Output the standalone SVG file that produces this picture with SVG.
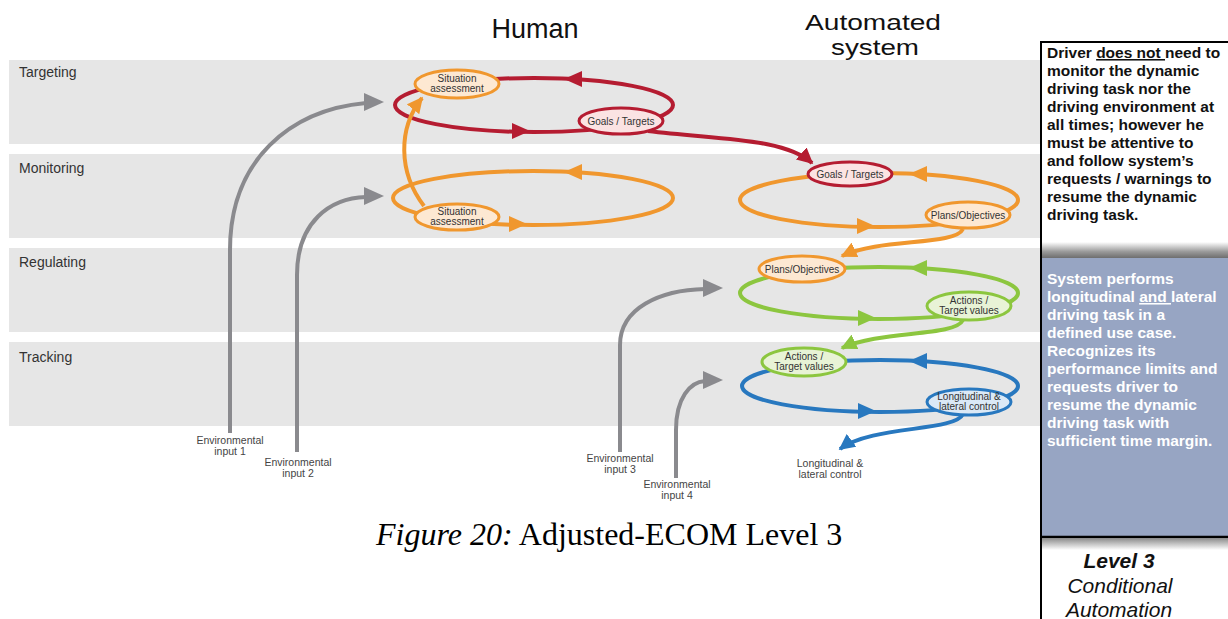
<svg xmlns="http://www.w3.org/2000/svg" width="1228" height="619" viewBox="0 0 1228 619">
  <style>
    .band { fill: #e6e6e6; }
    .bandlabel { font-family: "Liberation Sans", Arial, sans-serif; font-size: 14px; fill: #333; }
    .title { font-family: "Liberation Sans", Arial, sans-serif; fill: #111; text-anchor: middle; }
    .small { font-family: "Liberation Sans", Arial, sans-serif; font-size: 10.5px; fill: #444; text-anchor: middle; }
    .nodetext { font-family: "Liberation Sans", Arial, sans-serif; font-size: 10px; fill: #333; text-anchor: middle; }
    .loop { fill: none; stroke-width: 4; }
    .red { stroke: #b51c31; }
    .orange { stroke: #f0972e; }
    .green { stroke: #8cc63f; }
    .blue { stroke: #2878bf; }
    .gray { stroke: #8a8a8e; fill: none; stroke-width: 4; }
    .conn { fill: none; stroke-width: 4; }
    .n-red { fill: #fbe3e3; stroke: #b51c31; stroke-width: 3; }
    .n-orange { fill: #fde8d2; stroke: #f0972e; stroke-width: 3; }
    .n-green { fill: #e8f3d6; stroke: #8cc63f; stroke-width: 3; }
    .n-blue { fill: #dbe9f6; stroke: #2878bf; stroke-width: 3; }
    .ptext { font-family: "Liberation Sans", Arial, sans-serif; font-size: 15.5px; font-weight: bold; }
    .caption { font-family: "Liberation Serif", "Times New Roman", serif; font-size: 32px; fill: #000; }
    .lvl { font-family: "Liberation Sans", Arial, sans-serif; font-size: 21px; font-style: italic; fill: #111; text-anchor: middle; }
  </style>
  <defs>
    <!-- arrowhead pointing along +x, tip at origin -->
    <path id="head" d="M0 0 L-18 -8 L-18 8 Z"/>
    <path id="bighead" d="M0 0 L-20 -9 L-20 9 Z"/>
    <marker id="m-red" viewBox="0 0 10 10" refX="9" refY="5" markerWidth="4" markerHeight="4" orient="auto">
      <path d="M0 0 L10 5 L0 10 Z" fill="#b51c31"/>
    </marker>
    <marker id="m-orange" viewBox="0 0 10 10" refX="9" refY="5" markerWidth="4" markerHeight="4" orient="auto">
      <path d="M0 0 L10 5 L0 10 Z" fill="#f0972e"/>
    </marker>
    <marker id="m-green" viewBox="0 0 10 10" refX="9" refY="5" markerWidth="4" markerHeight="4" orient="auto">
      <path d="M0 0 L10 5 L0 10 Z" fill="#8cc63f"/>
    </marker>
    <marker id="m-blue" viewBox="0 0 10 10" refX="9" refY="5" markerWidth="4" markerHeight="4" orient="auto">
      <path d="M0 0 L10 5 L0 10 Z" fill="#2878bf"/>
    </marker>
    <linearGradient id="shadow" x1="0" y1="0" x2="0" y2="1">
      <stop offset="0" stop-color="#ffffff"/>
      <stop offset="0.6" stop-color="#9a9a9a"/>
      <stop offset="1" stop-color="#6e6e6e"/>
    </linearGradient>
    <linearGradient id="shadow2" x1="0" y1="0" x2="0" y2="1">
      <stop offset="0" stop-color="#8a8a8a"/>
      <stop offset="1" stop-color="#ffffff"/>
    </linearGradient>
  </defs>

  <rect width="1228" height="619" fill="#ffffff"/>

  <!-- process level bands -->
  <g id="bands">
    <rect class="band" x="9" y="60" width="1035" height="84"/>
    <rect class="band" x="9" y="154" width="1035" height="84"/>
    <rect class="band" x="9" y="248" width="1035" height="84"/>
    <rect class="band" x="9" y="342" width="1035" height="84"/>
    <text class="bandlabel" x="19" y="77">Targeting</text>
    <text class="bandlabel" x="19" y="173">Monitoring</text>
    <text class="bandlabel" x="19" y="267">Regulating</text>
    <text class="bandlabel" x="19" y="362">Tracking</text>
  </g>

  <g id="headings">
    <text class="title" x="535" y="38" font-size="27">Human</text>
    <text class="title" x="873" y="30" font-size="22" textLength="136" lengthAdjust="spacingAndGlyphs">Automated</text>
    <text class="title" x="875" y="55" font-size="22" textLength="88" lengthAdjust="spacingAndGlyphs">system</text>
  </g>

  <g id="connectors">
    <!-- control loops -->
    <ellipse class="loop red" cx="534" cy="105" rx="139" ry="27"/>
    <ellipse class="loop orange" cx="533" cy="198" rx="140" ry="27"/>
    <ellipse class="loop orange" cx="879" cy="200" rx="139" ry="27"/>
    <ellipse class="loop green" cx="879" cy="293" rx="139" ry="26"/>
    <ellipse class="loop blue" cx="880" cy="386" rx="138" ry="26"/>
    <use href="#head" fill="#b51c31" transform="translate(564 79) rotate(180)"/>
    <use href="#head" fill="#b51c31" transform="translate(530 131)"/>
    <use href="#head" fill="#f0972e" transform="translate(564 172) rotate(180)"/>
    <use href="#head" fill="#f0972e" transform="translate(527 224)"/>
    <use href="#head" fill="#f0972e" transform="translate(909 174) rotate(180)"/>
    <use href="#head" fill="#f0972e" transform="translate(875 226)"/>
    <use href="#head" fill="#8cc63f" transform="translate(909 268) rotate(180)"/>
    <use href="#head" fill="#8cc63f" transform="translate(876 318)"/>
    <use href="#head" fill="#2878bf" transform="translate(909 361) rotate(180)"/>
    <use href="#head" fill="#2878bf" transform="translate(876 411)"/>

    <!-- links between levels -->
    <path class="conn orange" d="M424 206 C398 172 398 128 422 98" marker-end="url(#m-orange)"/>
    <path class="conn red" d="M648 131 C722 140 784 138 812 163" marker-end="url(#m-red)"/>
    <path class="conn orange" d="M963 229 C955 246 880 238 842 256" marker-end="url(#m-orange)"/>
    <path class="conn green" d="M963 320 C955 337 880 330 842 348" marker-end="url(#m-green)"/>
    <path class="conn blue" d="M963 414 C955 432 872 425 840 449" marker-end="url(#m-blue)"/>

    <!-- environmental inputs -->
    <path class="gray" d="M230 433 V250 C230 160 290 110 366 103"/>
    <use href="#bighead" fill="#8a8a8e" transform="translate(384 102)"/>
    <path class="gray" d="M297 452 V275 C297 222 330 198 366 197"/>
    <use href="#bighead" fill="#8a8a8e" transform="translate(384 196)"/>
    <path class="gray" d="M620 452 V345 C620 308 660 290 705 289"/>
    <use href="#bighead" fill="#8a8a8e" transform="translate(723 288)"/>
    <path class="gray" d="M676 478 V430 C676 398 690 382 705 381"/>
    <use href="#bighead" fill="#8a8a8e" transform="translate(723 380)"/>
  </g>

  <!-- human side -->
  <g id="human-situation-targeting">
    <ellipse class="n-orange" cx="457" cy="84" rx="42" ry="14"/>
    <text class="nodetext" x="457" y="82">Situation</text>
    <text class="nodetext" x="457" y="92">assessment</text>
  </g>
  <g id="human-goals">
    <ellipse class="n-red" cx="621" cy="121" rx="42" ry="13"/>
    <text class="nodetext" x="621" y="125">Goals / Targets</text>
  </g>
  <g id="human-situation-monitoring">
    <ellipse class="n-orange" cx="457" cy="217" rx="42" ry="13"/>
    <text class="nodetext" x="457" y="215">Situation</text>
    <text class="nodetext" x="457" y="225">assessment</text>
  </g>

  <!-- automated side -->
  <g id="auto-goals">
    <ellipse class="n-red" cx="850" cy="174" rx="42" ry="12"/>
    <text class="nodetext" x="850" y="178">Goals / Targets</text>
  </g>
  <g id="auto-plans-monitoring">
    <ellipse class="n-orange" cx="968" cy="215" rx="42" ry="13"/>
    <text class="nodetext" x="968" y="219">Plans/Objectives</text>
  </g>
  <g id="auto-plans-regulating">
    <ellipse class="n-orange" cx="802" cy="269" rx="43" ry="13"/>
    <text class="nodetext" x="802" y="273">Plans/Objectives</text>
  </g>
  <g id="auto-actions-regulating">
    <ellipse class="n-green" cx="969" cy="306" rx="42" ry="14"/>
    <text class="nodetext" x="969" y="304">Actions /</text>
    <text class="nodetext" x="969" y="314">Target values</text>
  </g>
  <g id="auto-actions-tracking">
    <ellipse class="n-green" cx="804" cy="362" rx="42" ry="14"/>
    <text class="nodetext" x="804" y="360">Actions /</text>
    <text class="nodetext" x="804" y="370">Target values</text>
  </g>
  <g id="auto-control">
    <ellipse class="n-blue" cx="969" cy="402" rx="42" ry="13"/>
    <text class="nodetext" x="969" y="400">Longitudinal &amp;</text>
    <text class="nodetext" x="969" y="410">lateral control</text>
  </g>

  <g id="input-labels">
    <text class="small" x="230" y="444">Environmental</text>
    <text class="small" x="230" y="455">input 1</text>
    <text class="small" x="298" y="466">Environmental</text>
    <text class="small" x="298" y="477">input 2</text>
    <text class="small" x="620" y="462">Environmental</text>
    <text class="small" x="620" y="473">input 3</text>
    <text class="small" x="677" y="488">Environmental</text>
    <text class="small" x="677" y="499">input 4</text>
    <text class="small" x="830" y="467">Longitudinal &amp;</text>
    <text class="small" x="830" y="478">lateral control</text>
  </g>

  <g id="caption">
    <text class="caption" x="376" y="545"><tspan font-style="italic">Figure 20:</tspan> Adjusted-ECOM Level 3</text>
  </g>

  <!-- automation level panel -->
  <g id="level-panel">
    <rect x="1041" y="42" width="200" height="206" fill="#ffffff" stroke="#000" stroke-width="2"/>
    <rect x="1042" y="242" width="190" height="16" fill="url(#shadow)"/>
    <rect x="1042" y="258" width="190" height="279" fill="#97a5c3"/>
    <line x1="1041" y1="42" x2="1041" y2="619" stroke="#000" stroke-width="2"/>
    <line x1="1041" y1="537" x2="1228" y2="537" stroke="#000" stroke-width="2.5"/>
    <rect x="1042" y="538" width="190" height="12" fill="url(#shadow2)"/>
    <g class="ptext" fill="#111">
      <text x="1047" y="58">Driver <tspan text-decoration="underline">does not </tspan>need to</text>
      <text x="1047" y="76">monitor the dynamic</text>
      <text x="1047" y="94">driving task nor the</text>
      <text x="1047" y="112">driving environment at</text>
      <text x="1047" y="130">all times; however  he</text>
      <text x="1047" y="148">must be attentive to</text>
      <text x="1047" y="166">and follow system’s</text>
      <text x="1047" y="184">requests / warnings to</text>
      <text x="1047" y="202">resume the dynamic</text>
      <text x="1047" y="220">driving task.</text>
    </g>
    <g class="ptext" fill="#ffffff">
      <text x="1047" y="284">System performs</text>
      <text x="1047" y="302">longitudinal <tspan text-decoration="underline">and </tspan>lateral</text>
      <text x="1047" y="320">driving task in a</text>
      <text x="1047" y="338">defined use case.</text>
      <text x="1047" y="356">Recognizes its</text>
      <text x="1047" y="374">performance limits and</text>
      <text x="1047" y="392">requests driver to</text>
      <text x="1047" y="410">resume the dynamic</text>
      <text x="1047" y="428">driving task with</text>
      <text x="1047" y="446">sufficient time margin.</text>
    </g>
    <text class="lvl" x="1119" y="568" font-weight="bold">Level 3</text>
    <text class="lvl" x="1120" y="593">Conditional</text>
    <text class="lvl" x="1119" y="617">Automation</text>
  </g>
</svg>
